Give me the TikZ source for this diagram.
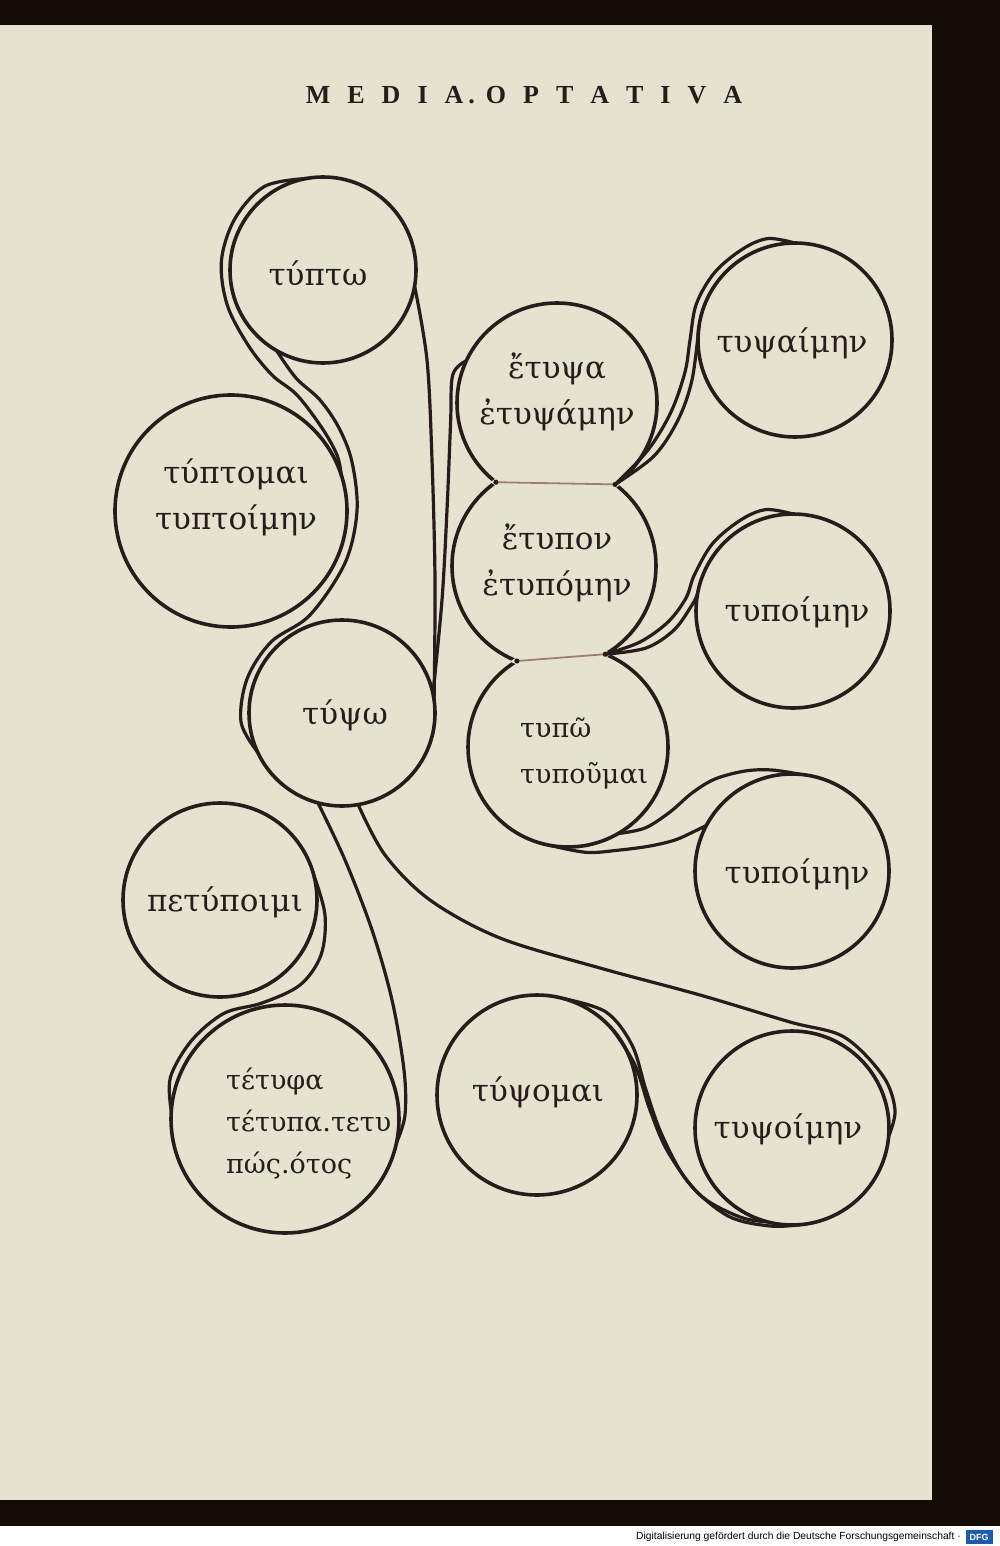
\documentclass[tikz,border=0pt]{standalone}
\usepackage{fontspec}
\setmainfont{DejaVu Serif}
\newfontfamily\titlefont{Liberation Serif}
\newfontfamily\capfont{Liberation Sans}
\usetikzlibrary{calc}
\definecolor{page}{RGB}{230,226,208}
\definecolor{ink}{RGB}{38,28,28}
\definecolor{chordcol}{RGB}{160,125,110}
\definecolor{dfgblue}{RGB}{30,90,170}
\newcommand{\ls}{\hspace{17pt}}
\begin{document}
\begin{tikzpicture}[x=1pt,y=-1pt,
  circ/.style={circle, draw=ink, line width=3.6pt, inner sep=0pt, outer sep=0pt},
  lbl/.style={font=\fontsize{31}{46}\selectfont, text=ink, align=center, inner sep=0pt},
  tendril/.style={draw=ink, line width=3.2pt, line cap=round, line join=round},
  chordline/.style={draw=chordcol, line width=1.8pt}
]
\useasboundingbox (0,0) rectangle (1000,1546);
\fill[black!90!brown] (0,0) rectangle (1000,1526);
\fill[page] (0,25) rectangle (932,1500);
\fill[white] (0,1526) rectangle (1000,1546);

% title
\node[font=\titlefont\bfseries\fontsize{26}{26}\selectfont, text=ink] (title) at (524,95)
  {M\ls E\ls D\ls I\ls A\hspace{5pt}.\hspace{11pt}O\ls P\ls T\ls A\ls T\ls I\ls V\ls A};

% circles
\node[circ, minimum size=186pt] (tupto) at (323,270) {};
\node[circ, minimum size=232pt] (tuptomai) at (231,511) {};
\node[circ, minimum size=200pt] (etupsa) at (557,403) {};
\node[circ, minimum size=204pt] (etupon) at (554,566) {};
\node[circ, minimum size=200pt] (tupo) at (568,747) {};
\node[circ, minimum size=194pt] (tupsaimen) at (795,340) {};
\node[circ, minimum size=194pt] (tupoimenA) at (793,611) {};
\node[circ, minimum size=186pt] (tupso) at (342,713) {};
\node[circ, minimum size=194pt] (tupoimenB) at (792,871) {};
\node[circ, minimum size=194pt] (petupoimi) at (220,900) {};
\node[circ, minimum size=228pt] (tetupha) at (285,1119) {};
\node[circ, minimum size=200pt] (tupsomai) at (537,1095) {};
\node[circ, minimum size=194pt] (tupsoimen) at (792,1128) {};

% erase overlaps in the column
\begin{scope}
  \clip (etupsa.center) circle[radius=103.2pt];
  \fill[page] (etupon.center) circle[radius=105.2pt];
\end{scope}
\begin{scope}
  \clip (etupon.center) circle[radius=105.2pt];
  \fill[page] (tupo.center) circle[radius=103.2pt];
\end{scope}
\coordinate (j12l) at (495.9,482.2);
\coordinate (j12r) at (615.1,484.4);
\coordinate (j23l) at (516.9,661.0);
\coordinate (j23r) at (605.3,654.2);
\draw[chordline] (j12l) -- (j12r);
\draw[chordline] (j23l) -- (j23r);
\fill[ink] (j12l) circle[radius=2.6pt] (j12r) circle[radius=2.6pt]
           (j23l) circle[radius=2.6pt] (j23r) circle[radius=2.6pt];

% tendrils
% A: around tupto's left, into tuptomai
\draw[tendril] plot[smooth, tension=0.55] coordinates {(tupto.100) (264.5,186.4) (234.7,219) (221.4,261.1) (227.2,304.9) (248,345) (272,375) (297,395) (322,428) (337,455) (tuptomai.18)};
% A2: from tupto down around tuptomai's right to tupso's left
\draw[tendril] plot[smooth, tension=0.55] coordinates {(tupto.240) (296,378) (320,400) (339,428) (352,462) (357,511) (345,563) (310,615) (271,642) (247,679) (241,722) (tupso.205)};
% B: tupto right down to tupso
\draw[tendril] plot[smooth, tension=0.55] coordinates {(tupto.-10) (427,360) (432,460) (435,580) (tupso.8)};
% C: tupso up to etupsa
\draw[tendril] plot[smooth, tension=0.55] coordinates {(tupso.12) (442,600) (447,510) (450.6,421.8) (452.7,375) (etupsa.155)};
% D: etupsa to tupsaimen
\draw[tendril] plot[smooth, tension=0.55] coordinates {(j12r) (648,450) (671,412) (685,372) (690,340) (696.3,304.1) (714.6,272.5) (742.5,249.1) (767.8,238.6) (tupsaimen.90)};
\draw[tendril] plot[smooth, tension=0.55] coordinates {(j12r) (654,456) (678,420) (692,380) (tupsaimen.172)};
% E: etupon to tupoimenA
\draw[tendril] plot[smooth, tension=0.55] coordinates {(j23r) (640,642) (668,622) (686,598) (694.3,575.1) (712.6,543.5) (740.5,520.1) (765.8,509.6) (tupoimenA.90)};
\draw[tendril] plot[smooth, tension=0.55] coordinates {(j23r) (646,648) (674,630) (692,605) (tupoimenA.170)};
% F: tupo to tupoimenB
\draw[tendril] plot[smooth, tension=0.55] coordinates {(tupo.-60) (645,828) (670,812) (692,793) (715,779) (745,771) (772,770) (tupoimenB.85)};
\draw[tendril] plot[smooth, tension=0.55] coordinates {(tupo.-100) (586.6,852.4) (620,850) (650,846) (675,840) (693,832) (tupoimenB.152)};
% G: tupso to tetupha
\draw[tendril] plot[smooth, tension=0.55] coordinates {(tupso.-105) (345,860) (372,930) (392,1000) (404,1070) (405,1115) (tetupha.-12)};
% H: tupso to tupsoimen
\draw[tendril] plot[smooth, tension=0.55] coordinates {(tupso.-80) (385,855) (430,900) (500,938) (600,968) (700,995) (790,1022) (844,1037) (883,1076) (895,1110) (tupsoimen.-5)};
% I: tupsomai to tupsoimen
\draw[tendril] plot[smooth, tension=0.55] coordinates {(tupsomai.75) (606,1012) (632,1045) (646,1090) (662,1135) (688,1182) (728,1216) (770,1226) (tupsoimen.-85)};
\draw[tendril] plot[smooth, tension=0.55] coordinates {(tupsomai.40) (635,1065) (650,1110) (668,1152) (700,1195) (740,1217) (tupsoimen.-105)};
% J: petupoimi to tetupha
\draw[tendril] plot[smooth, tension=0.55] coordinates {(petupoimi.15) (325,915) (321,955) (300,985) (262,1003) (224,1013.3) (191.5,1040.6) (170.4,1077.3) (tetupha.176)};

% labels
\node[lbl] (l1) at (318,274) {τύπτω};
\node[lbl] (l2) at (236,497) {τύπτομαι\\τυπτοίμην};
\node[lbl] (l3) at (557,392) {ἔτυψα\\ἐτυψάμην};
\node[lbl] (l4) at (557,563) {ἔτυπον\\ἐτυπόμην};
\node[lbl, font=\fontsize{27}{46}\selectfont, align=left, anchor=west] (l5) at (520,753) {τυπῶ\\τυποῦμαι};
\node[lbl] (l6) at (792,343) {τυψαίμην};
\node[lbl] (l7) at (797,612) {τυποίμην};
\node[lbl] (l8) at (345,715) {τύψω};
\node[lbl] (l9) at (797,874) {τυποίμην};
\node[lbl] (l10) at (225,902) {πετύποιμι};
\node[lbl, font=\fontsize{27}{42}\selectfont, align=left, anchor=west] (l11) at (226,1124) {τέτυφα\\τέτυπα.τετυ\\πώς.ότος};
\node[lbl] (l12) at (538,1092) {τύψομαι};
\node[lbl] (l13) at (788,1129) {τυψοίμην};

% caption
\node[font=\capfont\fontsize{10.3}{12}\selectfont, anchor=east, inner sep=0pt] (cap) at (961,1537) {Digitalisierung gefördert durch die Deutsche Forschungsgemeinschaft ·};
\node[fill=dfgblue, text=white, font=\capfont\bfseries\fontsize{9}{9}\selectfont, inner sep=1pt, minimum width=27pt, minimum height=14pt] (dfg) at (979,1537) {DFG};
\end{tikzpicture}
\end{document}
